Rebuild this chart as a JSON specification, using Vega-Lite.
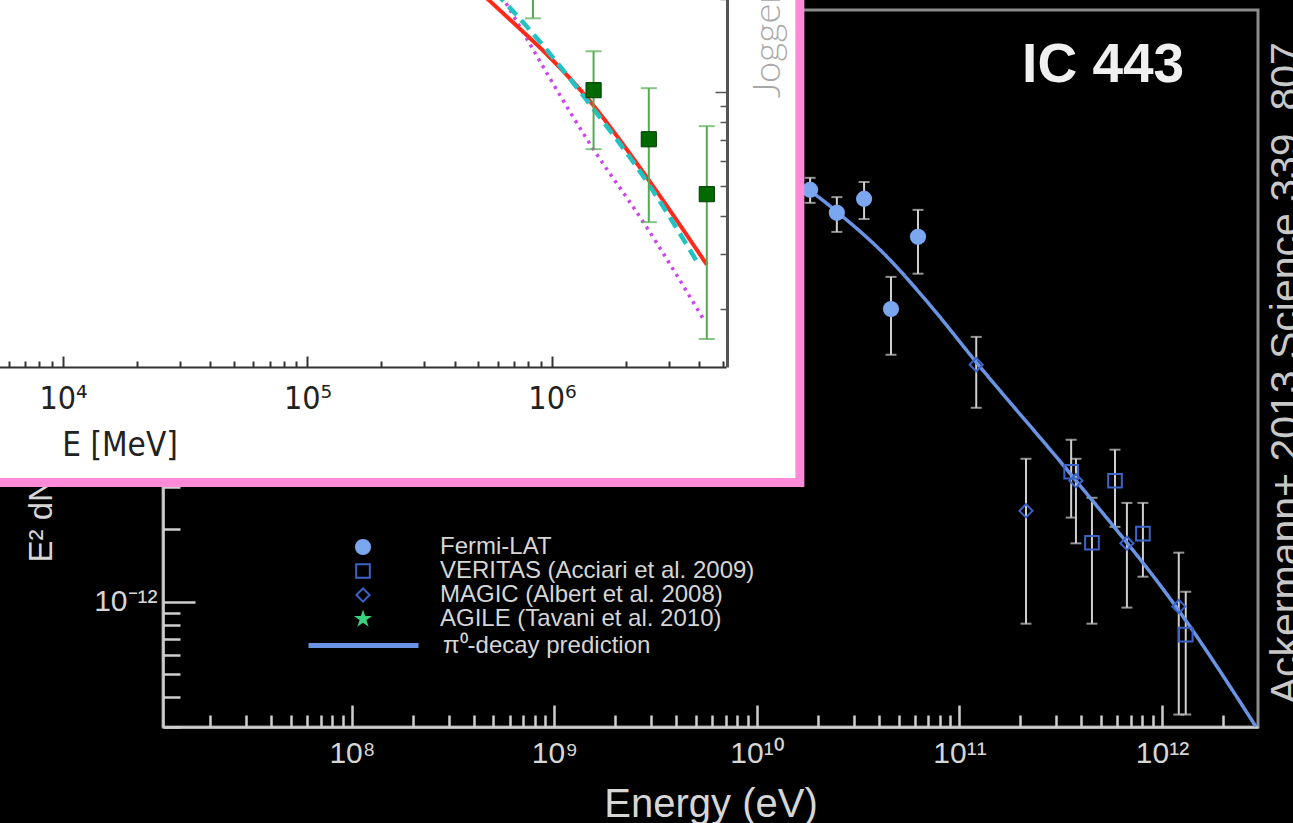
{
  "$schema": "https://vega.github.io/schema/vega-lite/v6.json",
  "width": 1095,
  "height": 717,
  "autosize": {"type": "none"},
  "padding": {"left": 163, "top": 10, "right": 35, "bottom": 96},
  "background": "#000000",
  "config": {
    "view": {"stroke": "#8c8c8c", "strokeWidth": 3},
    "axis": {"grid": false, "labelFlush": false, "labelOverlap": false}
  },
  "datasets": {
    "main": [
      {"inst": "Fermi-LAT", "E": 1.83e10, "F": 5.21e-11, "lo": 4.60e-11, "hi": 5.85e-11},
      {"inst": "Fermi-LAT", "E": 2.48e10, "F": 4.18e-11, "lo": 3.48e-11, "hi": 4.86e-11},
      {"inst": "Fermi-LAT", "E": 3.38e10, "F": 4.78e-11, "lo": 3.94e-11, "hi": 5.62e-11},
      {"inst": "Fermi-LAT", "E": 4.59e10, "F": 1.66e-11, "lo": 1.07e-11, "hi": 2.26e-11},
      {"inst": "Fermi-LAT", "E": 6.24e10, "F": 3.32e-11, "lo": 2.33e-11, "hi": 4.30e-11},
      {"inst": "MAGIC (Albert et al. 2008)", "E": 1.21e11, "F": 9.72e-12, "lo": 6.43e-12, "hi": 1.27e-11},
      {"inst": "MAGIC (Albert et al. 2008)", "E": 2.13e11, "F": 2.39e-12, "lo": 8.09e-13, "hi": 3.94e-12},
      {"inst": "MAGIC (Albert et al. 2008)", "E": 3.76e11, "F": 3.19e-12, "lo": 1.75e-12, "hi": 3.94e-12},
      {"inst": "MAGIC (Albert et al. 2008)", "E": 6.71e11, "F": 1.75e-12, "lo": 9.44e-13, "hi": 2.58e-12},
      {"inst": "MAGIC (Albert et al. 2008)", "E": 1.21e12, "F": 9.53e-13, "lo": 3.38e-13, "hi": 1.60e-12},
      {"inst": "VERITAS (Acciari et al. 2009)", "E": 3.56e11, "F": 3.48e-12, "lo": 2.24e-12, "hi": 4.73e-12},
      {"inst": "VERITAS (Acciari et al. 2009)", "E": 4.51e11, "F": 1.76e-12, "lo": 8.09e-13, "hi": 2.71e-12},
      {"inst": "VERITAS (Acciari et al. 2009)", "E": 5.86e11, "F": 3.19e-12, "lo": 2.05e-12, "hi": 4.30e-12},
      {"inst": "VERITAS (Acciari et al. 2009)", "E": 8.05e11, "F": 1.92e-12, "lo": 1.27e-12, "hi": 2.58e-12},
      {"inst": "VERITAS (Acciari et al. 2009)", "E": 1.31e12, "F": 7.28e-13, "lo": 3.38e-13, "hi": 1.10e-12}
    ],
    "pion": [
      {"model": "π⁰-decay prediction", "E": 3.05e8, "F": 7.64e-11},
      {"model": "π⁰-decay prediction", "E": 1.06e9, "F": 8.83e-11},
      {"model": "π⁰-decay prediction", "E": 4.17e9, "F": 7.64e-11},
      {"model": "π⁰-decay prediction", "E": 1.035e10, "F": 6.31e-11},
      {"model": "π⁰-decay prediction", "E": 1.73e10, "F": 5.31e-11},
      {"model": "π⁰-decay prediction", "E": 2.66e10, "F": 4.02e-11},
      {"model": "π⁰-decay prediction", "E": 4.19e10, "F": 2.85e-11},
      {"model": "π⁰-decay prediction", "E": 7.14e10, "F": 1.727e-11},
      {"model": "π⁰-decay prediction", "E": 1.205e11, "F": 1.0e-11},
      {"model": "π⁰-decay prediction", "E": 3.56e11, "F": 3.38e-12},
      {"model": "π⁰-decay prediction", "E": 1.23e12, "F": 9.0e-13},
      {"model": "π⁰-decay prediction", "E": 2.91e12, "F": 3.01e-13}
    ],
    "insetPts": [
      {"E": 8.36e5, "F": 2.45e-5, "lo": 1.73e-5, "hi": 3.56e-5},
      {"E": 1.48e6, "F": 1.015e-5, "lo": 6.55e-6, "hi": 1.355e-5},
      {"E": 2.49e6, "F": 7.05e-6, "lo": 3.81e-6, "hi": 1.03e-5},
      {"E": 4.30e6, "F": 4.69e-6, "lo": 1.60e-6, "hi": 7.77e-6}
    ],
    "insetModels": [
      {"model": "red", "E": 2.88e5, "F": 3.12e-5},
      {"model": "red", "E": 5.56e5, "F": 1.97e-5},
      {"model": "red", "E": 1.44e6, "F": 9.29e-6},
      {"model": "red", "E": 2.51e6, "F": 5.16e-6},
      {"model": "red", "E": 4.30e6, "F": 2.78e-6},
      {"model": "cyan", "E": 3.47e5, "F": 3.07e-5},
      {"model": "cyan", "E": 6.73e5, "F": 1.87e-5},
      {"model": "cyan", "E": 1.47e6, "F": 8.88e-6},
      {"model": "cyan", "E": 2.44e6, "F": 5.16e-6},
      {"model": "cyan", "E": 3.91e6, "F": 2.85e-6},
      {"model": "magenta", "E": 4.61e5, "F": 3.07e-5},
      {"model": "magenta", "E": 6.53e5, "F": 1.92e-5},
      {"model": "magenta", "E": 1.47e6, "F": 6.59e-6},
      {"model": "magenta", "E": 2.35e6, "F": 3.84e-6},
      {"model": "magenta", "E": 4.14e6, "F": 1.87e-6}
    ]
  },
  "layer": [
    {
      "layer": [
        {
          "data": {"name": "main"},
          "mark": {"type": "rule", "color": "#cfcfcf", "strokeWidth": 2},
          "encoding": {
            "x": {"field": "E", "type": "quantitative",
              "scale": {"type": "log", "domain": [1.167e7, 2.979e12], "nice": false},
              "axis": {"orient": "bottom", "title": "Energy (eV)", "titleFont": "Liberation Sans", "titleFontSize": 40, "titleFontWeight": "normal", "titleColor": "#d6d6d6", "titlePadding": 6,
                "labelExpr": "datum.value == 1e8 ? '10⁸' : datum.value == 1e9 ? '10⁹' : datum.value == 1e10 ? '10¹⁰' : datum.value == 1e11 ? '10¹¹' : datum.value == 1e12 ? '10¹²' : ''",
                "labelFont": "Liberation Sans", "labelFontSize": 30, "labelColor": "#d6d6d6", "labelPadding": 33,
                "tickSize": {"condition": {"test": "abs(log(datum.value)/LN10 - round(log(datum.value)/LN10)) < 0.000001", "value": -22}, "value": -12},
                "tickColor": "#cfcfcf", "tickWidth": 2.5, "domainColor": "#cfcfcf", "domainWidth": 2.5, "zindex": 0}},
            "y": {"field": "lo", "type": "quantitative",
              "scale": {"type": "log", "domain": [3.0e-13, 2.93e-10], "nice": false},
              "axis": {"orient": "left", "title": "E² dN/dE (erg cm⁻² s⁻¹)", "titleFont": "Liberation Sans", "titleFontSize": 33, "titleFontWeight": "normal", "titleColor": "#d6d6d6", "titleAngle": 270, "titleAlign": "left", "titleBaseline": "alphabetic", "titleX": -112, "titleY": 552,
                "labelExpr": "abs(log(datum.value)/LN10 + 12) < 0.000001 ? '10⁻¹²' : abs(log(datum.value)/LN10 + 11) < 0.000001 ? '10⁻¹¹' : abs(log(datum.value)/LN10 + 10) < 0.000001 ? '10⁻¹⁰' : ''",
                "labelFont": "Liberation Sans", "labelFontSize": 30, "labelColor": "#d6d6d6", "labelPadding": 38,
                "tickSize": {"condition": {"test": "abs(log(datum.value)/LN10 - round(log(datum.value)/LN10)) < 0.000001", "value": -32}, "value": -17},
                "tickColor": "#cfcfcf", "tickWidth": 2.5, "domainColor": "#cfcfcf", "domainWidth": 2.5, "zindex": 0}},
            "y2": {"field": "hi"}
          }
        },
        {
          "data": {"name": "main"},
          "mark": {"type": "tick", "orient": "horizontal", "color": "#cfcfcf", "size": 11, "thickness": 2},
          "encoding": {
            "x": {"field": "E", "type": "quantitative", "scale": {"type": "log", "domain": [1.167e7, 2.979e12], "nice": false}},
            "y": {"field": "lo", "type": "quantitative", "scale": {"type": "log", "domain": [3.0e-13, 2.93e-10], "nice": false}}
          }
        },
        {
          "data": {"name": "main"},
          "mark": {"type": "tick", "orient": "horizontal", "color": "#cfcfcf", "size": 11, "thickness": 2},
          "encoding": {
            "x": {"field": "E", "type": "quantitative", "scale": {"type": "log", "domain": [1.167e7, 2.979e12], "nice": false}},
            "y": {"field": "hi", "type": "quantitative", "scale": {"type": "log", "domain": [3.0e-13, 2.93e-10], "nice": false}}
          }
        },
        {
          "data": {"name": "pion"},
          "mark": {"type": "line", "stroke": "#6b93e3", "strokeWidth": 3.5, "interpolate": "monotone"},
          "encoding": {
            "x": {"field": "E", "type": "quantitative", "scale": {"type": "log", "domain": [1.167e7, 2.979e12], "nice": false}},
            "y": {"field": "F", "type": "quantitative", "scale": {"type": "log", "domain": [3.0e-13, 2.93e-10], "nice": false}},
            "strokeDash": {"field": "model", "type": "nominal",
              "scale": {"domain": ["π⁰-decay prediction"], "range": [[1, 0]]},
              "legend": {"title": null, "orient": "none", "legendX": 143, "legendY": 578, "padding": 0, "symbolType": "stroke", "symbolSize": 12100, "symbolStrokeWidth": 5, "symbolStrokeColor": "#6b93e3", "labelFontSize": 24, "labelFont": "Liberation Sans", "labelColor": "#d6d6d6", "labelOffset": 22, "labelLimit": 600}}
          }
        },
        {
          "data": {"name": "main"},
          "mark": {"type": "point", "strokeWidth": 2, "opacity": 1},
          "encoding": {
            "x": {"field": "E", "type": "quantitative", "scale": {"type": "log", "domain": [1.167e7, 2.979e12], "nice": false}},
            "y": {"field": "F", "type": "quantitative", "scale": {"type": "log", "domain": [3.0e-13, 2.93e-10], "nice": false}},
            "shape": {"field": "inst", "type": "nominal",
              "scale": {"domain": ["Fermi-LAT", "VERITAS (Acciari et al. 2009)", "MAGIC (Albert et al. 2008)", "AGILE (Tavani et al. 2010)"],
                "range": ["circle", "square", "diamond", "M0,-1L0.2245,-0.309L0.951,-0.309L0.363,0.118L0.588,0.809L0,0.382L-0.588,0.809L-0.363,0.118L-0.951,-0.309L-0.2245,-0.309Z"]},
              "legend": {"title": null, "orient": "none", "legendX": 188, "legendY": 525, "padding": 0, "rowPadding": -5, "labelFontSize": 24, "labelFont": "Liberation Sans", "labelColor": "#d6d6d6", "labelOffset": 65, "symbolStrokeWidth": 2, "labelLimit": 600}},
            "fill": {"field": "inst", "type": "nominal",
              "scale": {"domain": ["Fermi-LAT", "VERITAS (Acciari et al. 2009)", "MAGIC (Albert et al. 2008)", "AGILE (Tavani et al. 2010)"],
                "range": ["#7ba6f0", "transparent", "transparent", "#3ad07e"]},
              "legend": {"title": null, "orient": "none", "legendX": 188, "legendY": 525, "padding": 0, "rowPadding": -5, "labelFontSize": 24, "labelFont": "Liberation Sans", "labelColor": "#d6d6d6", "labelOffset": 65, "symbolStrokeWidth": 2, "labelLimit": 600}},
            "stroke": {"field": "inst", "type": "nominal",
              "scale": {"domain": ["Fermi-LAT", "VERITAS (Acciari et al. 2009)", "MAGIC (Albert et al. 2008)", "AGILE (Tavani et al. 2010)"],
                "range": ["#7ba6f0", "#3c63c8", "#3c63c8", "#3ad07e"]},
              "legend": {"title": null, "orient": "none", "legendX": 188, "legendY": 525, "padding": 0, "rowPadding": -5, "labelFontSize": 24, "labelFont": "Liberation Sans", "labelColor": "#d6d6d6", "labelOffset": 65, "symbolStrokeWidth": 2, "labelLimit": 600}},
            "size": {"field": "inst", "type": "nominal",
              "scale": {"domain": ["Fermi-LAT", "VERITAS (Acciari et al. 2009)", "MAGIC (Albert et al. 2008)", "AGILE (Tavani et al. 2010)"],
                "range": [200, 160, 130, 300]},
              "legend": {"title": null, "orient": "none", "legendX": 188, "legendY": 525, "padding": 0, "rowPadding": -5, "labelFontSize": 24, "labelFont": "Liberation Sans", "labelColor": "#d6d6d6", "labelOffset": 65, "symbolStrokeWidth": 2, "labelLimit": 600}}
          }
        },
        {
          "data": {"values": [{}]},
          "mark": {"type": "text", "text": "IC 443", "font": "Liberation Sans", "fontSize": 55, "fontWeight": "bold", "fill": "#f0f0f0", "align": "center", "baseline": "alphabetic"},
          "encoding": {
            "x": {"datum": 5.12e11, "type": "quantitative"},
            "y": {"datum": 1.47e-10, "type": "quantitative"}
          }
        },
        {
          "data": {"values": [{}]},
          "mark": {"type": "text", "text": "Ackermann+ 2013 Science 339, 807", "font": "Liberation Sans", "fontSize": 41, "fill": "#c8c8c8", "angle": 270, "align": "left", "baseline": "alphabetic"},
          "encoding": {
            "x": {"datum": 4.75e12, "type": "quantitative"},
            "y": {"datum": 3.73e-13, "type": "quantitative"}
          }
        }
      ]
    },
    {
      "layer": [
        {
          "data": {"values": [{}]},
          "mark": {"type": "rect", "fill": "#ffffff", "stroke": "#ff8ad8", "strokeWidth": 9},
          "encoding": {
            "x": {"datum": 4000, "type": "quantitative",
              "scale": {"type": "log", "domain": [56.23, 5.152e6], "range": [-650, 563], "nice": false},
              "axis": {"orient": "bottom", "offset": -360, "title": "E [MeV]", "titleFont": "DejaVu Sans Condensed, DejaVu Sans", "titleFontSize": 33, "titleFontWeight": "normal", "titleColor": "#222222", "titlePadding": 10,
                "labelExpr": "datum.value == 100 ? '10²' : datum.value == 1000 ? '10³' : datum.value == 10000 ? '10⁴' : datum.value == 100000 ? '10⁵' : datum.value == 1000000 ? '10⁶' : ''",
                "labelFont": "DejaVu Sans Condensed, DejaVu Sans", "labelFontSize": 32, "labelColor": "#222222", "labelPadding": 27,
                "tickSize": {"condition": {"test": "abs(log(datum.value)/LN10 - round(log(datum.value)/LN10)) < 0.000001", "value": -11}, "value": -6},
                "tickColor": "#333333", "tickWidth": 2, "domainColor": "#333333", "domainWidth": 2, "zindex": 1}},
            "x2": {"datum": 1.033e7},
            "y": {"datum": 0.01, "type": "quantitative",
              "scale": {"type": "log", "domain": [1.3e-6, 1e-4], "range": [357, -228], "nice": false},
              "axis": {"orient": "left", "offset": -564, "title": null, "labels": false,
                "tickSize": {"condition": {"test": "abs(log(datum.value)/LN10 - round(log(datum.value)/LN10)) < 0.000001", "value": 12}, "value": 7},
                "tickColor": "#555555", "tickWidth": 1.5, "domainColor": "#555555", "domainWidth": 3, "zindex": 1}},
            "y2": {"datum": 5.52e-7}
          }
        },
        {
          "data": {"name": "insetModels"},
          "transform": [{"filter": "datum.model == 'magenta'"}],
          "mark": {"type": "line", "stroke": "#cc44ee", "strokeWidth": 3.5, "strokeDash": [3, 5], "interpolate": "monotone"},
          "encoding": {
            "x": {"field": "E", "type": "quantitative", "scale": {"type": "log", "domain": [56.23, 5.152e6], "range": [-650, 563], "nice": false}},
            "y": {"field": "F", "type": "quantitative", "scale": {"type": "log", "domain": [1.3e-6, 1e-4], "range": [357, -228], "nice": false}}
          }
        },
        {
          "data": {"name": "insetModels"},
          "transform": [{"filter": "datum.model == 'red'"}],
          "mark": {"type": "line", "stroke": "#ff2a1a", "strokeWidth": 4, "interpolate": "monotone"},
          "encoding": {
            "x": {"field": "E", "type": "quantitative", "scale": {"type": "log", "domain": [56.23, 5.152e6], "range": [-650, 563], "nice": false}},
            "y": {"field": "F", "type": "quantitative", "scale": {"type": "log", "domain": [1.3e-6, 1e-4], "range": [357, -228], "nice": false}}
          }
        },
        {
          "data": {"name": "insetModels"},
          "transform": [{"filter": "datum.model == 'cyan'"}],
          "mark": {"type": "line", "stroke": "#22c2c2", "strokeWidth": 4.5, "strokeDash": [12, 7], "interpolate": "monotone"},
          "encoding": {
            "x": {"field": "E", "type": "quantitative", "scale": {"type": "log", "domain": [56.23, 5.152e6], "range": [-650, 563], "nice": false}},
            "y": {"field": "F", "type": "quantitative", "scale": {"type": "log", "domain": [1.3e-6, 1e-4], "range": [357, -228], "nice": false}}
          }
        },
        {
          "data": {"name": "insetPts"},
          "mark": {"type": "rule", "color": "#55aa55", "strokeWidth": 2},
          "encoding": {
            "x": {"field": "E", "type": "quantitative", "scale": {"type": "log", "domain": [56.23, 5.152e6], "range": [-650, 563], "nice": false}},
            "y": {"field": "lo", "type": "quantitative", "scale": {"type": "log", "domain": [1.3e-6, 1e-4], "range": [357, -228], "nice": false}},
            "y2": {"field": "hi"}
          }
        },
        {
          "data": {"name": "insetPts"},
          "mark": {"type": "tick", "orient": "horizontal", "color": "#55aa55", "size": 16, "thickness": 2},
          "encoding": {
            "x": {"field": "E", "type": "quantitative", "scale": {"type": "log", "domain": [56.23, 5.152e6], "range": [-650, 563], "nice": false}},
            "y": {"field": "lo", "type": "quantitative", "scale": {"type": "log", "domain": [1.3e-6, 1e-4], "range": [357, -228], "nice": false}}
          }
        },
        {
          "data": {"name": "insetPts"},
          "mark": {"type": "tick", "orient": "horizontal", "color": "#55aa55", "size": 16, "thickness": 2},
          "encoding": {
            "x": {"field": "E", "type": "quantitative", "scale": {"type": "log", "domain": [56.23, 5.152e6], "range": [-650, 563], "nice": false}},
            "y": {"field": "hi", "type": "quantitative", "scale": {"type": "log", "domain": [1.3e-6, 1e-4], "range": [357, -228], "nice": false}}
          }
        },
        {
          "data": {"name": "insetPts"},
          "mark": {"type": "point", "shape": "square", "size": 230, "filled": true, "fill": "#006a00", "stroke": "#003a00", "strokeWidth": 1, "opacity": 1},
          "encoding": {
            "x": {"field": "E", "type": "quantitative", "scale": {"type": "log", "domain": [56.23, 5.152e6], "range": [-650, 563], "nice": false}},
            "y": {"field": "F", "type": "quantitative", "scale": {"type": "log", "domain": [1.3e-6, 1e-4], "range": [357, -228], "nice": false}}
          }
        },
        {
          "data": {"values": [{}]},
          "mark": {"type": "text", "text": "Joggerst et al.", "font": "Lato", "fontSize": 38, "fontWeight": 300, "fill": "#a8a8a8", "angle": 270, "align": "left", "baseline": "alphabetic"},
          "encoding": {
            "x": {"datum": 8.55e6, "type": "quantitative"},
            "y": {"datum": 9.57e-6, "type": "quantitative"}
          }
        }
      ]
    }
  ],
  "resolve": {"scale": {"x": "independent", "y": "independent"}, "axis": {"x": "independent", "y": "independent"}}
}
